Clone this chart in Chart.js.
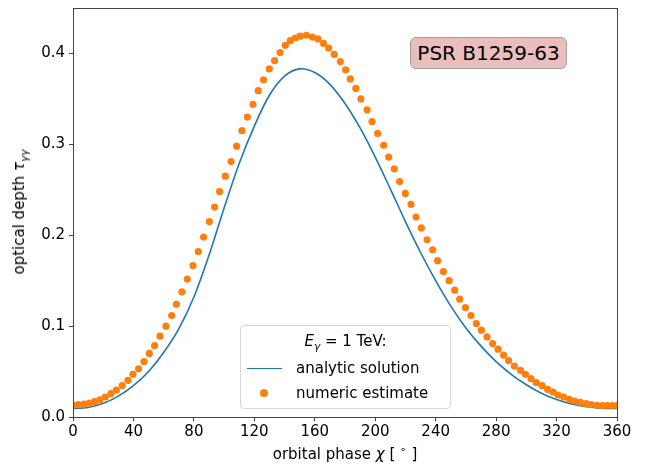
<!DOCTYPE html>
<html>
<head>
<meta charset="utf-8">
<script src="https://cdn.jsdelivr.net/npm/chart.js@4"></script>
<style>
    body { margin: 0; background: #fff; }
    #wrap { position: relative; width: 651px; height: 466px; font-family: "DejaVu Sans", sans-serif; color: #000; }
    #chart { position: absolute; left: 0; top: 0; }
    .ylabel { position: absolute; left: 20px; top: 212px; font-size: 15px; white-space: nowrap;
        transform: translate(-50%, -50%) rotate(-90deg); }
    .xlabel { position: absolute; left: 345px; top: 453px; font-size: 15px; white-space: nowrap;
        transform: translate(-50%, -50%); }
    .tag { position: absolute; left: 410px; top: 37px; width: 155px; height: 30px; box-sizing: content-box;
        background: #ebbebe; border: 1.5px solid #a0a0a0; border-radius: 6px;
        font-size: 20px; line-height: 30px; text-align: center; }
    .legend { position: absolute; left: 240px; top: 325px; width: 209px; height: 82px;
        background: rgba(255,255,255,0.85); border: 1px solid #d6d6d6; border-radius: 4px; font-size: 15px; }
    .legend .ttl { position: absolute; left: 0; right: 0; top: 6px; text-align: center; }
    .legend .row { position: absolute; left: 55px; white-space: nowrap; }
    .legend .ln { position: absolute; left: 6px; width: 35px; border-top: 1.6px solid #1f77b4; }
    .legend .dot { position: absolute; left: 19px; width: 8px; height: 8px; border-radius: 50%; background: #ff7f0e; }
    sub, sup { font-size: 70%; }
</style>
</head>
<body>
<div id="wrap">
    <canvas id="chart" width="651" height="466"></canvas>
    <div class="ylabel">optical depth <i>τ</i><sub><i>γγ</i></sub></div>
    <div class="xlabel">orbital phase <i>χ</i> [ <sup>∘</sup> ]</div>
    <div class="tag">PSR B1259-63</div>
    <div class="legend">
        <div class="ttl"><i>E</i><sub><i>γ</i></sub> = 1 TeV:</div>
        <div class="ln" style="top:42px"></div>
        <div class="row" style="top:33px">analytic solution</div>
        <div class="dot" style="top:63px"></div>
        <div class="row" style="top:58px">numeric estimate</div>
    </div>
</div>
<script>
// numeric estimate (dots), phase in degrees
const phaseNumeric = [0, 3.6, 7.3, 10.9, 14.3, 17.8, 21.4, 25.1, 28.7, 32.6, 36.4, 39.7, 43.4, 47.0, 50.5,
    54.0, 57.6, 61.5, 65.3, 68.4, 72.1, 75.6, 79.4, 82.9, 86.4, 90.2, 93.7, 97.0, 100.8, 104.6, 108.3,
    111.8, 115.4, 119.1, 122.6, 126.1, 129.9, 133.4, 137.0, 140.5, 143.8, 147.1, 150.4, 154.4, 158.4,
    162.1, 165.8, 169.2, 172.9, 176.9, 180.4, 183.5, 187.2, 190.5, 194.6, 197.9, 201.6, 205.6, 208.9,
    212.6, 216.1, 219.9, 223.7, 227.0, 230.5, 234.3, 238.0, 241.3, 245.1, 248.9, 252.6, 255.9, 259.7,
    263.4, 266.9, 270.2, 274.0, 277.7, 281.3, 285.0, 288.3, 292.1, 296.1, 299.4, 303.1, 306.6, 310.4,
    314.1, 317.7, 321.0, 324.7, 328.5, 332.0, 335.8, 339.5, 343.0, 346.8, 350.3, 353.5, 356.8, 360];
const tauNumeric = [0.013, 0.0137, 0.0142, 0.0152, 0.017, 0.019, 0.022, 0.0258, 0.0297, 0.0346, 0.0404,
    0.047, 0.053, 0.061, 0.070, 0.0786, 0.0889, 0.0999, 0.1117, 0.124, 0.1377, 0.1517, 0.1667, 0.182,
    0.198, 0.215, 0.231, 0.248, 0.265, 0.281, 0.298, 0.315, 0.330, 0.344, 0.359, 0.371, 0.383, 0.392,
    0.401, 0.409, 0.414, 0.417, 0.419, 0.420, 0.418, 0.416, 0.411, 0.406, 0.399, 0.391, 0.382, 0.372,
    0.3615, 0.350, 0.338, 0.325, 0.312, 0.299, 0.286, 0.273, 0.259, 0.246, 0.234, 0.220, 0.208, 0.195,
    0.184, 0.172, 0.160, 0.150, 0.1395, 0.1296, 0.1205, 0.1117, 0.1029, 0.0955, 0.0881, 0.0808, 0.0746,
    0.068, 0.062, 0.056, 0.0514, 0.047, 0.0423, 0.0379, 0.0346, 0.0305, 0.0275, 0.0242, 0.022, 0.0195,
    0.0176, 0.0162, 0.0147, 0.0137, 0.0129, 0.0126, 0.0126, 0.0126, 0.0126];

// analytic solution (line), read every 10 degrees
const phaseAnalytic = [0, 10, 20, 30, 40, 50, 60, 70, 80, 90, 100, 110, 120, 130, 140, 150, 160, 170, 180,
    190, 200, 210, 220, 230, 240, 250, 260, 270, 280, 290, 300, 310, 320, 330, 340, 350, 360];
const tauAnalytic = [0.0093, 0.0105, 0.0150, 0.0230, 0.0345, 0.0500, 0.0710, 0.0970, 0.1320, 0.1780,
    0.2300, 0.2790, 0.3200, 0.3540, 0.3750, 0.3830, 0.3790, 0.3660, 0.3450, 0.3180, 0.2860, 0.2510,
    0.2150, 0.1810, 0.1500, 0.1220, 0.0980, 0.0780, 0.0610, 0.0470, 0.0355, 0.0262, 0.0192, 0.0143,
    0.0112, 0.0096, 0.0093];

const xTicks = [0, 40, 80, 120, 160, 200, 240, 280, 320, 360];
const yTicks = [0.0, 0.1, 0.2, 0.3, 0.4];

const axisColor = '#444';
const tickFont = { family: 'DejaVu Sans', size: 15 };

// closes the frame on the top and right like matplotlib's spines
const framePlugin = {
    id: 'frame',
    afterDraw(chart) {
        const { ctx, chartArea: a } = chart;
        ctx.save();
        ctx.strokeStyle = axisColor;
        ctx.lineWidth = 1;
        ctx.strokeRect(Math.round(a.left) + 0.5, Math.round(a.top) + 0.5,
            Math.round(a.right - a.left), Math.round(a.bottom - a.top));
        ctx.restore();
    }
};

new Chart(document.getElementById('chart'), {
    type: 'scatter',
    data: {
        datasets: [
            {
                label: 'numeric estimate',
                data: phaseNumeric.map((x, i) => ({ x, y: tauNumeric[i] })),
                backgroundColor: '#ff7f0e',
                borderWidth: 0,
                pointRadius: 3.6,
                clip: 0,
                order: 0
            },
            {
                label: 'analytic solution',
                data: phaseAnalytic.map((x, i) => ({ x, y: tauAnalytic[i] })),
                showLine: true,
                borderColor: '#1f77b4',
                borderWidth: 1.6,
                pointRadius: 0,
                tension: 0.35,
                clip: 0,
                order: 1
            }
        ]
    },
    options: {
        responsive: false,
        devicePixelRatio: 1,
        animation: false,
        layout: { padding: { left: 0, right: 34, top: 8, bottom: 0 } },
        plugins: { legend: { display: false }, tooltip: { enabled: false } },
        scales: {
            x: {
                type: 'linear', min: 0, max: 360,
                afterBuildTicks: s => { s.ticks = xTicks.map(v => ({ value: v })); },
                afterFit: s => { s.height = 49; s.paddingLeft = 0; s.paddingRight = 0; },
                grid: { drawOnChartArea: false, drawTicks: true, tickLength: 4, color: axisColor },
                border: { display: true, color: axisColor },
                ticks: { font: tickFont, color: '#000', padding: 2, maxRotation: 0 }
            },
            y: {
                type: 'linear', min: 0, max: 0.45,
                afterBuildTicks: s => { s.ticks = yTicks.map(v => ({ value: v })); },
                afterFit: s => { s.width = 73; s.paddingTop = 0; s.paddingBottom = 0; },
                grid: { drawOnChartArea: false, drawTicks: true, tickLength: 4, color: axisColor },
                border: { display: true, color: axisColor },
                ticks: { font: tickFont, color: '#000', padding: 4, callback: v => v.toFixed(1) }
            }
        }
    },
    plugins: [framePlugin]
});
</script>
</body>
</html>
